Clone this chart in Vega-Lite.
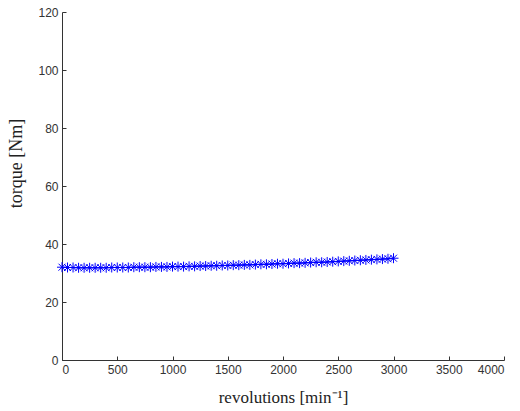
{
  "$schema": "https://vega.github.io/schema/vega-lite/v6.json",
  "width": 442,
  "height": 348,
  "autosize": {"type": "none"},
  "padding": {"left": 62, "top": 12, "right": 16, "bottom": 51},
  "background": "white",
  "config": {
    "view": {"stroke": null},
    "axis": {
      "grid": false,
      "domainColor": "#333333",
      "tickColor": "#333333",
      "labelColor": "#333333",
      "labelFont": "Liberation Sans",
      "labelFontSize": 12,
      "titleFont": "Liberation Serif",
      "titleFontSize": 17,
      "titleFontWeight": "normal",
      "titleColor": "#222222",
      "tickSize": -4
    }
  },
  "data": {"values": [
    {"rpm": 0, "torque": 32.0}, {"rpm": 50, "torque": 31.9}, {"rpm": 100, "torque": 31.9},
    {"rpm": 150, "torque": 31.8}, {"rpm": 200, "torque": 31.8}, {"rpm": 250, "torque": 31.8},
    {"rpm": 300, "torque": 31.8}, {"rpm": 350, "torque": 31.8}, {"rpm": 400, "torque": 31.8},
    {"rpm": 450, "torque": 31.9}, {"rpm": 500, "torque": 31.9}, {"rpm": 550, "torque": 31.9},
    {"rpm": 600, "torque": 31.9}, {"rpm": 650, "torque": 32.0}, {"rpm": 700, "torque": 32.0},
    {"rpm": 750, "torque": 32.0}, {"rpm": 800, "torque": 32.0}, {"rpm": 850, "torque": 32.1},
    {"rpm": 900, "torque": 32.1}, {"rpm": 950, "torque": 32.1}, {"rpm": 1000, "torque": 32.2},
    {"rpm": 1050, "torque": 32.2}, {"rpm": 1100, "torque": 32.2}, {"rpm": 1150, "torque": 32.3},
    {"rpm": 1200, "torque": 32.3}, {"rpm": 1250, "torque": 32.4}, {"rpm": 1300, "torque": 32.4},
    {"rpm": 1350, "torque": 32.5}, {"rpm": 1400, "torque": 32.5}, {"rpm": 1450, "torque": 32.6},
    {"rpm": 1500, "torque": 32.6}, {"rpm": 1550, "torque": 32.7}, {"rpm": 1600, "torque": 32.7},
    {"rpm": 1650, "torque": 32.8}, {"rpm": 1700, "torque": 32.8}, {"rpm": 1750, "torque": 32.9},
    {"rpm": 1800, "torque": 33.0}, {"rpm": 1850, "torque": 33.0}, {"rpm": 1900, "torque": 33.1},
    {"rpm": 1950, "torque": 33.2}, {"rpm": 2000, "torque": 33.2}, {"rpm": 2050, "torque": 33.3},
    {"rpm": 2100, "torque": 33.4}, {"rpm": 2150, "torque": 33.4}, {"rpm": 2200, "torque": 33.5},
    {"rpm": 2250, "torque": 33.6}, {"rpm": 2300, "torque": 33.7}, {"rpm": 2350, "torque": 33.7},
    {"rpm": 2400, "torque": 33.8}, {"rpm": 2450, "torque": 33.9}, {"rpm": 2500, "torque": 34.0},
    {"rpm": 2550, "torque": 34.1}, {"rpm": 2600, "torque": 34.2}, {"rpm": 2650, "torque": 34.3},
    {"rpm": 2700, "torque": 34.4}, {"rpm": 2750, "torque": 34.5}, {"rpm": 2800, "torque": 34.6},
    {"rpm": 2850, "torque": 34.7}, {"rpm": 2900, "torque": 34.8}, {"rpm": 2950, "torque": 34.9},
    {"rpm": 3000, "torque": 35.1}
  ]},
  "encoding": {
    "x": {
      "field": "rpm", "type": "quantitative",
      "scale": {"domain": [0, 4000], "nice": false},
      "axis": {"values": [0, 500, 1000, 1500, 2000, 2500, 3000, 3500, 4000], "format": "d", "title": "revolutions [min⁻¹]", "labelPadding": 8, "titlePadding": 14}
    },
    "y": {
      "field": "torque", "type": "quantitative",
      "scale": {"domain": [0, 120], "nice": false},
      "axis": {"values": [0, 20, 40, 60, 80, 100, 120], "title": "torque [Nm]", "labelPadding": 8, "titlePadding": 12, "titleY": 151, "titleFontSize": 18}
    }
  },
  "layer": [
    {"mark": {"type": "line", "color": "#0000ff", "strokeWidth": 1}},
    {"mark": {"type": "point", "filled": false, "color": "#0000ff", "strokeWidth": 1, "size": 100, "opacity": 1,
      "shape": "M0,-1L0,1M-1,0L1,0M-0.7,-0.7L0.7,0.7M-0.7,0.7L0.7,-0.7"}}
  ]
}
